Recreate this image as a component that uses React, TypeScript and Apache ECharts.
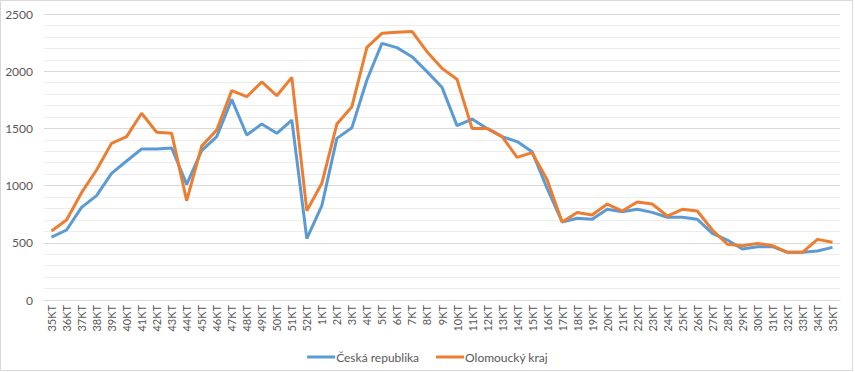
import React, { useEffect, useRef } from "react";
import * as echarts from "echarts";

const categories = [
  "35KT", "36KT", "37KT", "38KT", "39KT", "40KT", "41KT", "42KT", "43KT", "44KT",
  "45KT", "46KT", "47KT", "48KT", "49KT", "50KT", "51KT", "52KT", "1KT", "2KT",
  "3KT", "4KT", "5KT", "6KT", "7KT", "8KT", "9KT", "10KT", "11KT", "12KT",
  "13KT", "14KT", "15KT", "16KT", "17KT", "18KT", "19KT", "20KT", "21KT", "22KT",
  "23KT", "24KT", "25KT", "26KT", "27KT", "28KT", "29KT", "30KT", "31KT", "32KT",
  "33KT", "34KT", "35KT",
];

const ceskaRepublika = [
  550, 612, 810, 912, 1107, 1215, 1320, 1320, 1329, 1011,
  1305, 1428, 1754, 1442, 1538, 1457, 1573, 536, 825, 1413,
  1506, 1923, 2243, 2206, 2127, 1996, 1859, 1524, 1582, 1500,
  1428, 1385, 1295, 975, 682, 714, 705, 793, 772, 793,
  766, 723, 723, 705, 583, 524, 446, 466, 466, 417,
  417, 428, 460,
];

const olomouckyKraj = [
  603, 699, 938, 1136, 1370, 1428, 1632, 1466, 1457, 868,
  1345, 1486, 1830, 1777, 1906, 1786, 1946, 781, 1020, 1538,
  1690, 2209, 2331, 2340, 2348, 2171, 2025, 1929, 1500, 1500,
  1428, 1247, 1288, 1052, 682, 764, 743, 839, 778, 857,
  839, 734, 793, 778, 612, 487, 475, 495, 475, 417,
  417, 530, 504,
];

const yAxisRange = { min: 0, max: 2500, minorStep: 100, labelStep: 500 };

export default function App() {
  const ref = useRef<HTMLDivElement>(null);

  useEffect(() => {
    document.body.style.margin = "0";
    const chart = echarts.init(ref.current!, null, { renderer: "svg" });
    const font = "Lato, 'Open Sans', sans-serif";
    chart.setOption({
      animation: false,
      backgroundColor: "#ffffff",
      textStyle: { fontFamily: font },
      graphic: [
        {
          type: "rect",
          shape: { x: 0.5, y: 0.5, width: 852, height: 370 },
          style: { fill: "none", stroke: "#d9d9d9", lineWidth: 1 },
          silent: true,
        },
      ],
      grid: { left: 44, right: 15, top: 14, bottom: 72 },
      legend: {
        top: 346,
        left: "center",
        icon: "rect",
        itemWidth: 28,
        itemHeight: 3,
        itemGap: 17,
        textStyle: { color: "#595959", fontSize: 12, fontFamily: font, padding: [0, 0, 0, -4] },
        data: ["Česká republika", "Olomoucký kraj"],
      },
      xAxis: {
        type: "category",
        data: categories,
        boundaryGap: true,
        axisLine: { show: true, lineStyle: { color: "#d9d9d9", width: 1 } },
        axisTick: { show: false },
        axisLabel: {
          rotate: 90,
          interval: 0,
          color: "#595959",
          fontSize: 11,
          margin: 5,
          fontFamily: font,
        },
      },
      yAxis: {
        type: "value",
        min: yAxisRange.min,
        max: yAxisRange.max,
        interval: yAxisRange.minorStep,
        axisLine: { show: false },
        axisTick: { show: false },
        axisLabel: {
          color: "#595959",
          fontSize: 12,
          margin: 11,
          fontFamily: font,
          formatter: (v: number) => (v % yAxisRange.labelStep === 0 ? String(v) : ""),
        },
        splitLine: {
          show: true,
          lineStyle: {
            color: ["#d9d9d9", "#ececec", "#ececec", "#ececec", "#ececec"],
            width: 1,
          },
        },
      },
      series: [
        {
          name: "Česká republika",
          type: "line",
          data: ceskaRepublika,
          symbol: "none",
          lineStyle: { color: "#5b9bd5", width: 3 },
          itemStyle: { color: "#5b9bd5" },
          z: 2,
        },
        {
          name: "Olomoucký kraj",
          type: "line",
          data: olomouckyKraj,
          symbol: "none",
          lineStyle: { color: "#ed7d31", width: 3 },
          itemStyle: { color: "#ed7d31" },
          z: 3,
        },
      ],
    });
    return () => chart.dispose();
  }, []);

  return <div ref={ref} style={{ width: 855, height: 372 }} />;
}
